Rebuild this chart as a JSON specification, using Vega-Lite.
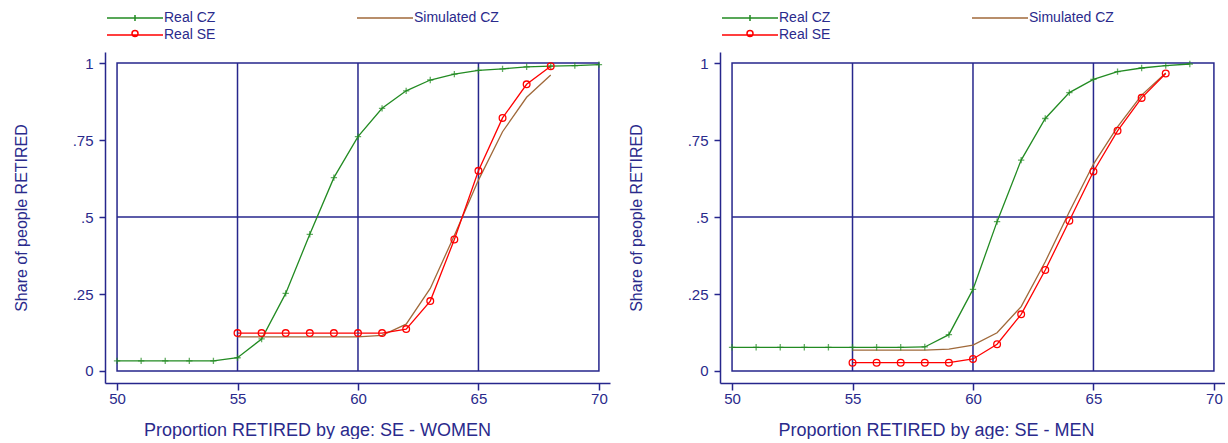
{
  "$schema": "https://vega.github.io/schema/vega-lite/v6.json",
  "background": "white",
  "padding": {"left": 13, "top": 11, "right": 0, "bottom": 0},
  "spacing": 18,
  "config": {
    "view": {"stroke": null},
    "font": "Liberation Sans",
    "axis": {
      "domainColor": "#26268c", "domainWidth": 1.5, "tickColor": "#26268c", "tickWidth": 1.5,
      "labelFont": "Liberation Sans", "labelFontSize": 15, "labelColor": "#2a2a8c",
      "titleFont": "Liberation Sans", "titleFontWeight": "normal", "titleColor": "#2a2a8c", "grid": false
    },
    "legend": {
      "orient": "none", "legendX": 23, "legendY": -41, "direction": "horizontal", "columns": 2,
      "columnPadding": 138, "rowPadding": 2, "padding": 0, "title": null,
      "symbolType": "stroke", "symbolSize": 100, "symbolStrokeWidth": 1.5,
      "labelFont": "Liberation Sans", "labelFontSize": 14, "labelColor": "#2a2a8c", "labelOffset": 22
    }
  },
  "datasets": {
    "women": [
      {"age": 50, "share": 0.033, "series": "Real CZ"},
      {"age": 51, "share": 0.033, "series": "Real CZ"},
      {"age": 52, "share": 0.033, "series": "Real CZ"},
      {"age": 53, "share": 0.033, "series": "Real CZ"},
      {"age": 54, "share": 0.033, "series": "Real CZ"},
      {"age": 55, "share": 0.043, "series": "Real CZ"},
      {"age": 56, "share": 0.104, "series": "Real CZ"},
      {"age": 57, "share": 0.252, "series": "Real CZ"},
      {"age": 58, "share": 0.444, "series": "Real CZ"},
      {"age": 59, "share": 0.628, "series": "Real CZ"},
      {"age": 60, "share": 0.761, "series": "Real CZ"},
      {"age": 61, "share": 0.853, "series": "Real CZ"},
      {"age": 62, "share": 0.910, "series": "Real CZ"},
      {"age": 63, "share": 0.945, "series": "Real CZ"},
      {"age": 64, "share": 0.964, "series": "Real CZ"},
      {"age": 65, "share": 0.976, "series": "Real CZ"},
      {"age": 66, "share": 0.981, "series": "Real CZ"},
      {"age": 67, "share": 0.988, "series": "Real CZ"},
      {"age": 68, "share": 0.990, "series": "Real CZ"},
      {"age": 69, "share": 0.992, "series": "Real CZ"},
      {"age": 70, "share": 0.995, "series": "Real CZ"},
      {"age": 55, "share": 0.111, "series": "Simulated CZ"},
      {"age": 56, "share": 0.111, "series": "Simulated CZ"},
      {"age": 57, "share": 0.111, "series": "Simulated CZ"},
      {"age": 58, "share": 0.111, "series": "Simulated CZ"},
      {"age": 59, "share": 0.111, "series": "Simulated CZ"},
      {"age": 60, "share": 0.111, "series": "Simulated CZ"},
      {"age": 61, "share": 0.116, "series": "Simulated CZ"},
      {"age": 62, "share": 0.152, "series": "Simulated CZ"},
      {"age": 63, "share": 0.268, "series": "Simulated CZ"},
      {"age": 64, "share": 0.440, "series": "Simulated CZ"},
      {"age": 65, "share": 0.620, "series": "Simulated CZ"},
      {"age": 66, "share": 0.777, "series": "Simulated CZ"},
      {"age": 67, "share": 0.889, "series": "Simulated CZ"},
      {"age": 68, "share": 0.961, "series": "Simulated CZ"},
      {"age": 55, "share": 0.123, "series": "Real SE"},
      {"age": 56, "share": 0.123, "series": "Real SE"},
      {"age": 57, "share": 0.123, "series": "Real SE"},
      {"age": 58, "share": 0.123, "series": "Real SE"},
      {"age": 59, "share": 0.123, "series": "Real SE"},
      {"age": 60, "share": 0.123, "series": "Real SE"},
      {"age": 61, "share": 0.123, "series": "Real SE"},
      {"age": 62, "share": 0.136, "series": "Real SE"},
      {"age": 63, "share": 0.227, "series": "Real SE"},
      {"age": 64, "share": 0.427, "series": "Real SE"},
      {"age": 65, "share": 0.650, "series": "Real SE"},
      {"age": 66, "share": 0.822, "series": "Real SE"},
      {"age": 67, "share": 0.931, "series": "Real SE"},
      {"age": 68, "share": 0.990, "series": "Real SE"}
    ],
    "men": [
      {"age": 50, "share": 0.077, "series": "Real CZ"},
      {"age": 51, "share": 0.077, "series": "Real CZ"},
      {"age": 52, "share": 0.077, "series": "Real CZ"},
      {"age": 53, "share": 0.077, "series": "Real CZ"},
      {"age": 54, "share": 0.077, "series": "Real CZ"},
      {"age": 55, "share": 0.077, "series": "Real CZ"},
      {"age": 56, "share": 0.077, "series": "Real CZ"},
      {"age": 57, "share": 0.077, "series": "Real CZ"},
      {"age": 58, "share": 0.078, "series": "Real CZ"},
      {"age": 59, "share": 0.118, "series": "Real CZ"},
      {"age": 60, "share": 0.265, "series": "Real CZ"},
      {"age": 61, "share": 0.485, "series": "Real CZ"},
      {"age": 62, "share": 0.685, "series": "Real CZ"},
      {"age": 63, "share": 0.820, "series": "Real CZ"},
      {"age": 64, "share": 0.904, "series": "Real CZ"},
      {"age": 65, "share": 0.947, "series": "Real CZ"},
      {"age": 66, "share": 0.972, "series": "Real CZ"},
      {"age": 67, "share": 0.984, "series": "Real CZ"},
      {"age": 68, "share": 0.992, "series": "Real CZ"},
      {"age": 69, "share": 0.997, "series": "Real CZ"},
      {"age": 55, "share": 0.068, "series": "Simulated CZ"},
      {"age": 56, "share": 0.068, "series": "Simulated CZ"},
      {"age": 57, "share": 0.068, "series": "Simulated CZ"},
      {"age": 58, "share": 0.068, "series": "Simulated CZ"},
      {"age": 59, "share": 0.071, "series": "Simulated CZ"},
      {"age": 60, "share": 0.084, "series": "Simulated CZ"},
      {"age": 61, "share": 0.124, "series": "Simulated CZ"},
      {"age": 62, "share": 0.209, "series": "Simulated CZ"},
      {"age": 63, "share": 0.355, "series": "Simulated CZ"},
      {"age": 64, "share": 0.517, "series": "Simulated CZ"},
      {"age": 65, "share": 0.672, "series": "Simulated CZ"},
      {"age": 66, "share": 0.793, "series": "Simulated CZ"},
      {"age": 67, "share": 0.896, "series": "Simulated CZ"},
      {"age": 68, "share": 0.968, "series": "Simulated CZ"},
      {"age": 55, "share": 0.027, "series": "Real SE"},
      {"age": 56, "share": 0.027, "series": "Real SE"},
      {"age": 57, "share": 0.027, "series": "Real SE"},
      {"age": 58, "share": 0.027, "series": "Real SE"},
      {"age": 59, "share": 0.027, "series": "Real SE"},
      {"age": 60, "share": 0.039, "series": "Real SE"},
      {"age": 61, "share": 0.087, "series": "Real SE"},
      {"age": 62, "share": 0.184, "series": "Real SE"},
      {"age": 63, "share": 0.328, "series": "Real SE"},
      {"age": 64, "share": 0.488, "series": "Real SE"},
      {"age": 65, "share": 0.648, "series": "Real SE"},
      {"age": 66, "share": 0.780, "series": "Real SE"},
      {"age": 67, "share": 0.887, "series": "Real SE"},
      {"age": 68, "share": 0.966, "series": "Real SE"}
    ]
  },
  "resolve": {"scale": {"color": "independent"}, "legend": {"color": "independent"}},
  "hconcat": [
    {
      "width": 505, "height": 331,
      "data": {"name": "women"},
      "layer": [
        {
          "data": {"values": [{}]},
          "mark": {"type": "rect", "filled": false, "stroke": "#26268c", "strokeWidth": 1.5},
          "encoding": {
            "x": {"datum": 50, "type": "quantitative", "scale": {"domain": [49.5, 70.46], "nice": false, "zero": false},
                  "axis": {"values": [50, 55, 60, 65, 70], "tickSize": 7, "labelPadding": 1, "labelFlush": false,
                           "title": "Proportion RETIRED by age: SE - WOMEN", "titleFontSize": 18, "titlePadding": 15, "titleX": 212}},
            "x2": {"datum": 70},
            "y": {"datum": 0, "type": "quantitative", "scale": {"domain": [-0.039, 1.036], "nice": false, "zero": false},
                  "axis": {"values": [0, 0.25, 0.5, 0.75, 1], "tickSize": 6, "labelPadding": 6, "labelFlush": false,
                           "labelExpr": "replace(format(datum.value, '~g'), '0.', '.')",
                           "title": "Share of people RETIRED", "titleFontSize": 16, "titlePadding": 43}},
            "y2": {"datum": 1}
          }
        },
        {"data": {"values": [{}]}, "mark": {"type": "rule", "color": "#26268c", "strokeWidth": 1.5},
         "encoding": {"x": {"datum": 55, "type": "quantitative"}, "y": {"datum": 0, "type": "quantitative"}, "y2": {"datum": 1}}},
        {"data": {"values": [{}]}, "mark": {"type": "rule", "color": "#26268c", "strokeWidth": 1.5},
         "encoding": {"x": {"datum": 60, "type": "quantitative"}, "y": {"datum": 0, "type": "quantitative"}, "y2": {"datum": 1}}},
        {"data": {"values": [{}]}, "mark": {"type": "rule", "color": "#26268c", "strokeWidth": 1.5},
         "encoding": {"x": {"datum": 65, "type": "quantitative"}, "y": {"datum": 0, "type": "quantitative"}, "y2": {"datum": 1}}},
        {"data": {"values": [{}]}, "mark": {"type": "rule", "color": "#26268c", "strokeWidth": 1.5},
         "encoding": {"y": {"datum": 0.5, "type": "quantitative"}, "x": {"datum": 50, "type": "quantitative"}, "x2": {"datum": 70}}},
        {
          "mark": {"type": "line", "strokeWidth": 1.3},
          "encoding": {
            "x": {"field": "age", "type": "quantitative"},
            "y": {"field": "share", "type": "quantitative"},
            "color": {"field": "series", "type": "nominal",
                      "scale": {"domain": ["Real CZ", "Simulated CZ", "Real SE"], "range": ["#228b22", "#a0693a", "#ff0000"]},
                      "legend": {"encode": {"symbols": {"update": {"shape": {"signal": "datum.value === 'Real CZ' ? 'M-5.6,0H5.6M0,-0.6V0.6' : datum.value === 'Real SE' ? 'M-5.6,0H5.6M-0.6,-0.3A0.6,0.6,0,1,1,0.6,-0.3A0.6,0.6,0,1,1,-0.6,-0.3' : 'M-5.6,0H5.6'"}}}}}},
            "order": {"field": "age"}
          }
        },
        {
          "transform": [{"filter": "datum.series === 'Real CZ'"}],
          "mark": {"type": "point", "shape": "M-1,0H1M0,-1V1", "size": 40, "stroke": "#228b22", "strokeWidth": 1.3, "filled": false},
          "encoding": {"x": {"field": "age", "type": "quantitative"}, "y": {"field": "share", "type": "quantitative"}}
        },
        {
          "transform": [{"filter": "datum.series === 'Real SE'"}],
          "mark": {"type": "point", "shape": "circle", "size": 45, "stroke": "#ff0000", "strokeWidth": 1.3, "filled": false, "opacity": 1},
          "encoding": {"x": {"field": "age", "type": "quantitative"}, "y": {"field": "share", "type": "quantitative"}}
        }
      ]
    },
    {
      "width": 505, "height": 331,
      "data": {"name": "men"},
      "layer": [
        {
          "data": {"values": [{}]},
          "mark": {"type": "rect", "filled": false, "stroke": "#26268c", "strokeWidth": 1.5},
          "encoding": {
            "x": {"datum": 50, "type": "quantitative", "scale": {"domain": [49.5, 70.46], "nice": false, "zero": false},
                  "axis": {"values": [50, 55, 60, 65, 70], "tickSize": 7, "labelPadding": 1, "labelFlush": false,
                           "title": "Proportion RETIRED by age: SE - MEN", "titleFontSize": 18, "titlePadding": 15, "titleX": 216}},
            "x2": {"datum": 70},
            "y": {"datum": 0, "type": "quantitative", "scale": {"domain": [-0.039, 1.036], "nice": false, "zero": false},
                  "axis": {"values": [0, 0.25, 0.5, 0.75, 1], "tickSize": 6, "labelPadding": 6, "labelFlush": false,
                           "labelExpr": "replace(format(datum.value, '~g'), '0.', '.')",
                           "title": "Share of people RETIRED", "titleFontSize": 16, "titlePadding": 43}},
            "y2": {"datum": 1}
          }
        },
        {"data": {"values": [{}]}, "mark": {"type": "rule", "color": "#26268c", "strokeWidth": 1.5},
         "encoding": {"x": {"datum": 55, "type": "quantitative"}, "y": {"datum": 0, "type": "quantitative"}, "y2": {"datum": 1}}},
        {"data": {"values": [{}]}, "mark": {"type": "rule", "color": "#26268c", "strokeWidth": 1.5},
         "encoding": {"x": {"datum": 60, "type": "quantitative"}, "y": {"datum": 0, "type": "quantitative"}, "y2": {"datum": 1}}},
        {"data": {"values": [{}]}, "mark": {"type": "rule", "color": "#26268c", "strokeWidth": 1.5},
         "encoding": {"x": {"datum": 65, "type": "quantitative"}, "y": {"datum": 0, "type": "quantitative"}, "y2": {"datum": 1}}},
        {"data": {"values": [{}]}, "mark": {"type": "rule", "color": "#26268c", "strokeWidth": 1.5},
         "encoding": {"y": {"datum": 0.5, "type": "quantitative"}, "x": {"datum": 50, "type": "quantitative"}, "x2": {"datum": 70}}},
        {
          "mark": {"type": "line", "strokeWidth": 1.3},
          "encoding": {
            "x": {"field": "age", "type": "quantitative"},
            "y": {"field": "share", "type": "quantitative"},
            "color": {"field": "series", "type": "nominal",
                      "scale": {"domain": ["Real CZ", "Simulated CZ", "Real SE"], "range": ["#228b22", "#a0693a", "#ff0000"]},
                      "legend": {"encode": {"symbols": {"update": {"shape": {"signal": "datum.value === 'Real CZ' ? 'M-5.6,0H5.6M0,-0.6V0.6' : datum.value === 'Real SE' ? 'M-5.6,0H5.6M-0.6,-0.3A0.6,0.6,0,1,1,0.6,-0.3A0.6,0.6,0,1,1,-0.6,-0.3' : 'M-5.6,0H5.6'"}}}}}},
            "order": {"field": "age"}
          }
        },
        {
          "transform": [{"filter": "datum.series === 'Real CZ'"}],
          "mark": {"type": "point", "shape": "M-1,0H1M0,-1V1", "size": 40, "stroke": "#228b22", "strokeWidth": 1.3, "filled": false},
          "encoding": {"x": {"field": "age", "type": "quantitative"}, "y": {"field": "share", "type": "quantitative"}}
        },
        {
          "transform": [{"filter": "datum.series === 'Real SE'"}],
          "mark": {"type": "point", "shape": "circle", "size": 45, "stroke": "#ff0000", "strokeWidth": 1.3, "filled": false, "opacity": 1},
          "encoding": {"x": {"field": "age", "type": "quantitative"}, "y": {"field": "share", "type": "quantitative"}}
        }
      ]
    }
  ]
}
